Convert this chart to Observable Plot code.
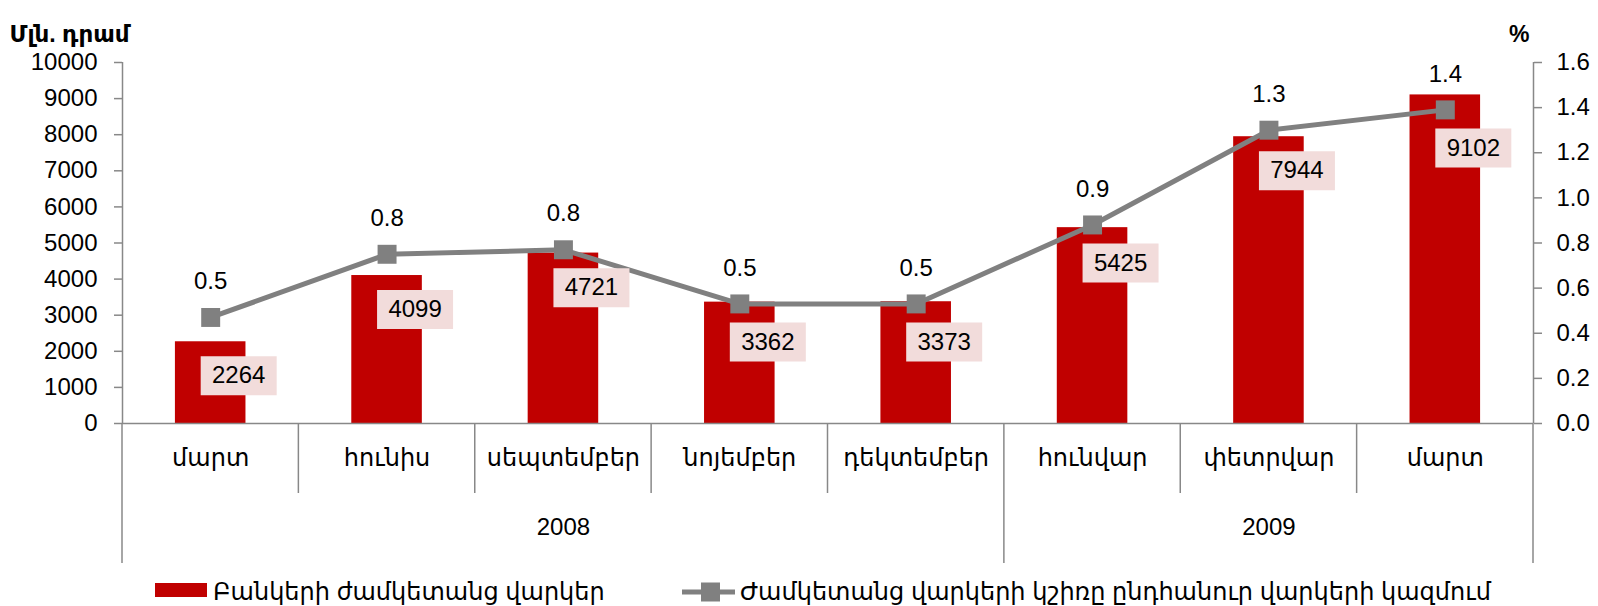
<!DOCTYPE html>
<html>
<head>
<meta charset="utf-8">
<script src="https://cdn.jsdelivr.net/npm/d3@7"></script>
<script src="https://cdn.jsdelivr.net/npm/@observablehq/plot@0.6"></script>
<style>
  html, body { margin: 0; padding: 0; background: #fff; }
  body { font-family: "Liberation Sans", Arial, "DejaVu Sans", sans-serif; color: #000; }
  #wrap { position: relative; width: 1598px; height: 606px; overflow: hidden; }
  #legend { position: relative; width: 1598px; height: 34px; font-size: 24px; }
  #legend .sw { position: absolute; left: 155px; top: 11px; width: 52px; height: 14px; background: #C00000; }
  #legend .t { position: absolute; top: 0; line-height: 40px; white-space: nowrap; }
  #legend svg { position: absolute; left: 680px; top: 8px; }
</style>
</head>
<body>
<div id="wrap">
  <div id="chart"></div>
  <div id="legend"></div>
</div>
<script>
// ---- data ----
const months = ["մարտ", "հունիս", "սեպտեմբեր", "նոյեմբեր", "դեկտեմբեր", "հունվար", "փետրվար", "մարտ"];
const years = ["2008", "2009"];
const yearSpans = [[0, 5], [5, 8]];
const overdueLoans = [2264, 4099, 4721, 3362, 3373, 5425, 7944, 9102];
const overdueShare = [0.47, 0.75, 0.77, 0.53, 0.53, 0.88, 1.30, 1.39];
const leftTicks = [0, 1000, 2000, 3000, 4000, 5000, 6000, 7000, 8000, 9000, 10000];
const rightTicks = [0, 0.2, 0.4, 0.6, 0.8, 1.0, 1.2, 1.4, 1.6];
const seriesNames = ["Բանկերի ժամկետանց վարկեր", "Ժամկետանց վարկերի կշիռը ընդհանուր վարկերի կազմում"];
const unitLeft = "Մլն. դրամ";
const unitRight = "%";

const leftMax = 10000, rightMax = 1.6;
const ratio = leftMax / rightMax;

// layout
const W = 1598, H = 572, mL = 122, mR = 65, mT = 62, mB = 149;
const pxPerUnit = (H - mT - mB) / leftMax;

const data = months.map((m, i) => ({ i, month: m, loans: overdueLoans[i], share: overdueShare[i] }));
const xc = d => d.i + 0.5;
const yShare = d => d.share * ratio;
// value labels sit inside the bar top, pushed below the line marker when they would collide
const yLabel = d => Math.min(d.loans - 34 / pxPerUnit, yShare(d) - 38 / pxPerUnit);

const AXIS = "#888888";
const labelBox = { draw(ctx) { ctx.rect(-38, -19.5, 76, 39); } };

const separators = (index, scales, values, dims) => {
  const g = d3.create("svg:g").attr("stroke", AXIS).attr("stroke-width", 1.5);
  const y0 = dims.height - dims.marginBottom;
  const bounds = new Set(yearSpans.flat());
  for (let k = 0; k <= months.length; k++) {
    const X = scales.x(k);
    g.append("line").attr("x1", X).attr("x2", X).attr("y1", y0)
      .attr("y2", y0 + (bounds.has(k) ? 140 : 70));
  }
  return g.node();
};

const chart = Plot.plot({
  width: W,
  height: H,
  marginLeft: mL,
  marginRight: mR,
  marginTop: mT,
  marginBottom: mB,
  x: { domain: [0, months.length], axis: null },
  y: { domain: [0, leftMax], axis: null },
  style: { fontFamily: '"Liberation Sans", Arial, "DejaVu Sans", sans-serif', fontSize: "24px", color: "#000", background: "#fff" },
  marks: [
    Plot.rectY(data, { x1: d => d.i + 0.3, x2: d => d.i + 0.7, y: "loans", fill: "#C00000" }),
    Plot.ruleX([0, months.length], { stroke: AXIS, strokeWidth: 1.5 }),
    Plot.ruleY([0], { stroke: AXIS, strokeWidth: 1.5 }),
    Plot.axisY(leftTicks, { anchor: "left", tickSize: 8, tickPadding: 17, stroke: AXIS, strokeWidth: 1.5, fill: "#000", fontSize: 24, label: null, tickFormat: d => String(d) }),
    Plot.axisY(rightTicks.map(d => d * ratio), { anchor: "right", tickSize: 8, tickPadding: 15, stroke: AXIS, strokeWidth: 1.5, fill: "#000", fontSize: 24, label: null, tickFormat: d => (d / ratio).toFixed(1) }),
    separators,
    Plot.text(data, { x: xc, text: "month", frameAnchor: "bottom", dy: 42, fontSize: 24 }),
    Plot.text(years, { x: (d, j) => (yearSpans[j][0] + yearSpans[j][1]) / 2, text: d => d, frameAnchor: "bottom", dy: 111, fontSize: 24 }),
    Plot.line(data, { x: xc, y: yShare, stroke: "#808080", strokeWidth: 5 }),
    Plot.dot(data, { x: xc, y: yShare, symbol: "square", r: 10.7, fill: "#808080" }),
    Plot.text(data, { x: xc, y: yShare, text: d => d.share.toFixed(1), dy: -36, fontSize: 24 }),
    Plot.dot(data, { x: xc, y: yLabel, symbol: labelBox, r: 1, fill: "#F2DCDB", dx: 28 }),
    Plot.text(data, { x: xc, y: yLabel, text: d => String(d.loans), dx: 28, fontSize: 24 }),
    Plot.text([unitLeft], { text: d => d, frameAnchor: "top-left", textAnchor: "start", dx: -113, dy: -37, fontSize: 23, fontWeight: "bold" }),
    Plot.text([unitRight], { text: d => d, frameAnchor: "top-right", dx: -4, dy: -37, fontSize: 23, fontWeight: "bold" })
  ]
});
document.getElementById("chart").appendChild(chart);

// legend
const lg = d3.select("#legend");
lg.append("div").attr("class", "sw");
lg.append("div").attr("class", "t").style("left", "213px").text(seriesNames[0]);
const ls = lg.append("svg").attr("width", 58).attr("height", 24);
ls.append("line").attr("x1", 2).attr("x2", 55).attr("y1", 12).attr("y2", 12).attr("stroke", "#808080").attr("stroke-width", 5);
ls.append("rect").attr("x", 21).attr("y", 2.5).attr("width", 19).attr("height", 19).attr("fill", "#808080");
lg.append("div").attr("class", "t").style("left", "740px").text(seriesNames[1]);
</script>
</body>
</html>
